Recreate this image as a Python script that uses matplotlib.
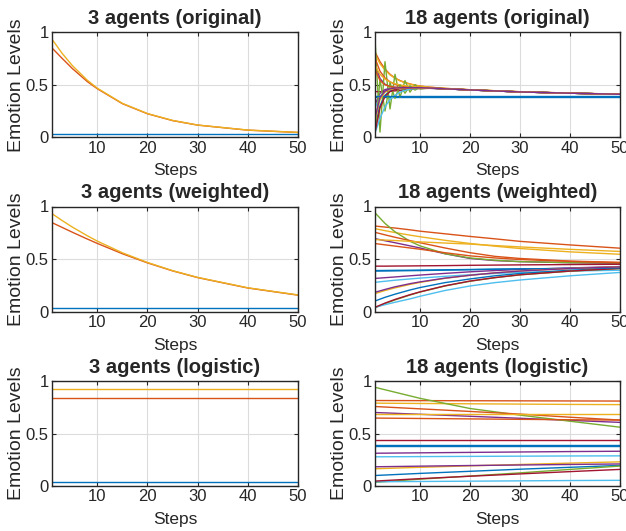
import matplotlib
matplotlib.use("Agg")
import matplotlib.pyplot as plt
from matplotlib import font_manager

plt.rcParams['font.family'] = ['Liberation Sans', 'DejaVu Sans']

# MATLAB default colour order
colors = ['#0072BD', '#D95319', '#EDB120', '#7E2F8E', '#77AC30', '#4DBEEE', '#A2142F']

steps_smooth = [1, 3, 5, 8, 10, 15, 20, 25, 30, 40, 50]
steps_orig18 = [1, 2, 3, 4, 5, 6, 7, 8, 9, 10, 12, 15, 20, 30, 40, 50]
steps_logistic = [1, 10, 20, 30, 40, 50]

# ---- 3 agents ----
orig3 = [
    [0.03, 0.03, 0.03, 0.03, 0.03, 0.03, 0.03, 0.03, 0.03, 0.03, 0.03],
    [0.848, 0.75, 0.655, 0.53, 0.462, 0.32, 0.224, 0.159, 0.116, 0.068, 0.046],
    [0.93, 0.797, 0.683, 0.543, 0.467, 0.323, 0.226, 0.161, 0.117, 0.069, 0.047],
]
weighted3 = [
    [0.03, 0.03, 0.03, 0.03, 0.03, 0.03, 0.03, 0.03, 0.03, 0.03, 0.03],
    [0.845, 0.80, 0.755, 0.69, 0.648, 0.55, 0.463, 0.387, 0.323, 0.224, 0.156],
    [0.93, 0.865, 0.804, 0.721, 0.670, 0.559, 0.467, 0.389, 0.325, 0.226, 0.158],
]
logistic3 = [
    [0.035, 0.035, 0.035, 0.035, 0.035, 0.035],
    [0.838, 0.838, 0.838, 0.838, 0.838, 0.838],
    [0.922, 0.922, 0.922, 0.922, 0.922, 0.922],
]

# ---- 18 agents ----
orig18 = [
    [0.385, 0.385, 0.385, 0.385, 0.385, 0.385, 0.385, 0.385, 0.385, 0.385, 0.385, 0.385, 0.385, 0.385, 0.385, 0.385],
    [0.814, 0.72, 0.65, 0.60, 0.565, 0.54, 0.522, 0.508, 0.497, 0.488, 0.477, 0.466, 0.453, 0.434, 0.421, 0.411],
    [0.789, 0.70, 0.64, 0.595, 0.562, 0.538, 0.52, 0.506, 0.496, 0.487, 0.477, 0.466, 0.453, 0.434, 0.421, 0.411],
    [0.70, 0.56, 0.505, 0.484, 0.476, 0.474, 0.474, 0.474, 0.473, 0.473, 0.469, 0.462, 0.451, 0.432, 0.42, 0.41],
    [0.94, 0.05, 0.72, 0.27, 0.60, 0.38, 0.54, 0.43, 0.50, 0.46, 0.47, 0.463, 0.452, 0.433, 0.42, 0.41],
    [0.278, 0.39, 0.44, 0.46, 0.467, 0.47, 0.471, 0.472, 0.472, 0.472, 0.469, 0.462, 0.451, 0.432, 0.42, 0.41],
    [0.435, 0.435, 0.436, 0.438, 0.442, 0.447, 0.453, 0.458, 0.462, 0.465, 0.466, 0.461, 0.451, 0.432, 0.42, 0.41],
    [0.10, 0.30, 0.40, 0.44, 0.458, 0.466, 0.47, 0.471, 0.472, 0.472, 0.469, 0.462, 0.451, 0.432, 0.42, 0.41],
    [0.754, 0.63, 0.565, 0.528, 0.505, 0.492, 0.484, 0.479, 0.476, 0.474, 0.47, 0.463, 0.452, 0.433, 0.42, 0.41],
    [0.685, 0.60, 0.555, 0.527, 0.51, 0.499, 0.491, 0.485, 0.481, 0.478, 0.472, 0.464, 0.452, 0.433, 0.42, 0.41],
    [0.312, 0.42, 0.455, 0.466, 0.47, 0.472, 0.472, 0.472, 0.472, 0.472, 0.469, 0.462, 0.451, 0.432, 0.42, 0.41],
    [0.035, 0.55, 0.25, 0.52, 0.37, 0.50, 0.42, 0.49, 0.45, 0.475, 0.468, 0.462, 0.451, 0.432, 0.42, 0.41],
    [0.04, 0.18, 0.29, 0.36, 0.40, 0.43, 0.448, 0.458, 0.464, 0.467, 0.467, 0.461, 0.451, 0.432, 0.42, 0.41],
    [0.047, 0.28, 0.39, 0.435, 0.455, 0.464, 0.468, 0.47, 0.471, 0.471, 0.468, 0.462, 0.451, 0.432, 0.42, 0.41],
    [0.39, 0.39, 0.39, 0.39, 0.39, 0.39, 0.39, 0.39, 0.39, 0.39, 0.39, 0.39, 0.39, 0.39, 0.39, 0.39],
    [0.647, 0.54, 0.50, 0.484, 0.477, 0.474, 0.473, 0.473, 0.473, 0.473, 0.469, 0.462, 0.451, 0.432, 0.42, 0.41],
    [0.164, 0.36, 0.43, 0.456, 0.466, 0.47, 0.471, 0.472, 0.472, 0.472, 0.469, 0.462, 0.451, 0.432, 0.42, 0.41],
    [0.183, 0.38, 0.44, 0.462, 0.469, 0.472, 0.473, 0.473, 0.473, 0.473, 0.469, 0.462, 0.451, 0.432, 0.42, 0.41],
]
weighted18 = [
    [0.385, 0.386, 0.387, 0.389, 0.39, 0.394, 0.398, 0.402, 0.405, 0.41, 0.415],
    [0.814, 0.804, 0.795, 0.778, 0.765, 0.74, 0.715, 0.692, 0.668, 0.634, 0.603],
    [0.789, 0.77, 0.752, 0.727, 0.712, 0.678, 0.648, 0.622, 0.60, 0.568, 0.545],
    [0.694, 0.674, 0.655, 0.625, 0.605, 0.55, 0.505, 0.485, 0.475, 0.465, 0.458],
    [0.94, 0.839, 0.759, 0.669, 0.625, 0.551, 0.51, 0.488, 0.475, 0.465, 0.462],
    [0.278, 0.288, 0.298, 0.31, 0.318, 0.335, 0.35, 0.362, 0.372, 0.385, 0.393],
    [0.432, 0.432, 0.433, 0.434, 0.435, 0.437, 0.44, 0.442, 0.444, 0.447, 0.45],
    [0.10, 0.135, 0.165, 0.205, 0.228, 0.275, 0.31, 0.34, 0.362, 0.393, 0.413],
    [0.754, 0.73, 0.707, 0.675, 0.655, 0.605, 0.56, 0.525, 0.505, 0.48, 0.468],
    [0.685, 0.68, 0.676, 0.668, 0.663, 0.652, 0.642, 0.628, 0.615, 0.592, 0.572],
    [0.315, 0.322, 0.329, 0.34, 0.347, 0.363, 0.378, 0.39, 0.40, 0.415, 0.428],
    [0.035, 0.075, 0.11, 0.157, 0.185, 0.243, 0.288, 0.322, 0.349, 0.384, 0.409],
    [0.04, 0.065, 0.088, 0.12, 0.145, 0.2, 0.243, 0.275, 0.30, 0.34, 0.372],
    [0.04, 0.08, 0.115, 0.16, 0.187, 0.245, 0.29, 0.323, 0.35, 0.385, 0.41],
    [0.39, 0.391, 0.392, 0.393, 0.394, 0.397, 0.40, 0.403, 0.406, 0.41, 0.415],
    [0.647, 0.635, 0.623, 0.605, 0.593, 0.56, 0.53, 0.51, 0.495, 0.477, 0.465],
    [0.17, 0.2, 0.225, 0.258, 0.277, 0.316, 0.345, 0.368, 0.386, 0.41, 0.427],
    [0.183, 0.21, 0.235, 0.265, 0.282, 0.318, 0.345, 0.368, 0.385, 0.41, 0.425],
]
logistic18 = [
    [0.385, 0.385, 0.385, 0.385, 0.385, 0.385],
    [0.814, 0.813, 0.812, 0.811, 0.81, 0.809],
    [0.789, 0.786, 0.783, 0.78, 0.777, 0.775],
    [0.70, 0.683, 0.664, 0.645, 0.625, 0.606],
    [0.94, 0.835, 0.738, 0.675, 0.617, 0.56],
    [0.278, 0.28, 0.282, 0.284, 0.286, 0.287],
    [0.435, 0.435, 0.435, 0.435, 0.435, 0.435],
    [0.10, 0.12, 0.14, 0.16, 0.178, 0.196],
    [0.757, 0.735, 0.71, 0.685, 0.655, 0.628],
    [0.685, 0.685, 0.685, 0.685, 0.685, 0.685],
    [0.312, 0.316, 0.32, 0.324, 0.328, 0.331],
    [0.035, 0.065, 0.095, 0.125, 0.158, 0.19],
    [0.04, 0.043, 0.046, 0.049, 0.052, 0.054],
    [0.047, 0.07, 0.093, 0.115, 0.137, 0.158],
    [0.39, 0.39, 0.39, 0.39, 0.39, 0.39],
    [0.647, 0.643, 0.639, 0.635, 0.631, 0.628],
    [0.164, 0.178, 0.192, 0.205, 0.218, 0.23],
    [0.183, 0.189, 0.195, 0.2, 0.205, 0.21],
]

titles = ['3 agents (original)', '18 agents (original)',
          '3 agents (weighted)', '18 agents (weighted)',
          '3 agents (logistic)', '18 agents (logistic)']
panels = [(steps_smooth, orig3), (steps_orig18, orig18),
          (steps_smooth, weighted3), (steps_smooth, weighted18),
          (steps_logistic, logistic3), (steps_logistic, logistic18)]

# condensed face for tick numbers if available
installed = {f.name for f in font_manager.fontManager.ttflist}
if 'Liberation Sans Narrow' in installed:
    tick_family, tick_size = 'Liberation Sans Narrow', 13
else:
    tick_family, tick_size = 'Liberation Sans', 12

W, H = 626, 531
fig = plt.figure(figsize=(W / 100, H / 100), dpi=100)

lefts = [52.3, 375.0]
widths = [245.5, 245.0]
tops = [32.3, 206.5, 381.0]
ax_h = 105.0

dark = '#262626'
for i, (title, (xs, data)) in enumerate(zip(titles, panels)):
    r, c = divmod(i, 2)
    ax = fig.add_axes([lefts[c] / W, 1 - (tops[r] + ax_h) / H, widths[c] / W, ax_h / H])
    for k, series in enumerate(data):
        ax.plot(xs, series, color=colors[k % len(colors)], lw=1.0, solid_joinstyle='round')
    ax.set_xlim(1, 50)
    ax.set_ylim(0, 1)
    ax.set_xticks([10, 20, 30, 40, 50])
    ax.set_yticks([0, 0.5, 1])
    ax.set_yticklabels(['0', '0.5', '1'])
    ax.grid(True, color='#dcdcdc', lw=0.8)
    ax.set_axisbelow(True)
    for s in ax.spines.values():
        s.set_color(dark)
        s.set_linewidth(1.0)
    ax.tick_params(direction='in', length=3, width=0.8, colors=dark,
                   top=True, right=True, pad=2.5)
    for lab in ax.get_xticklabels() + ax.get_yticklabels():
        lab.set_fontfamily(tick_family)
        lab.set_fontsize(tick_size)
    ax.set_title(title, fontsize=14.5, fontweight='bold', color=dark, pad=6)
    ax.set_xlabel('Steps', fontsize=12.5, color=dark, labelpad=5.5)
    ax.set_ylabel('Emotion Levels', fontsize=14, color=dark, labelpad=0.5)

fig.savefig('out.png', dpi=100)
